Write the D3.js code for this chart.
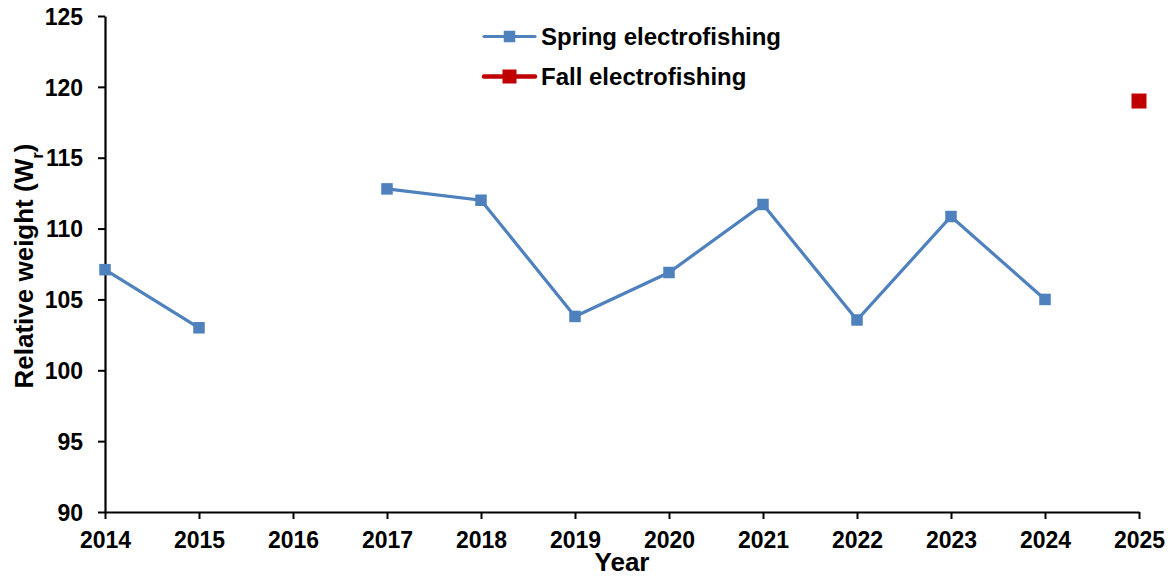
<!DOCTYPE html>
<html>
<head>
<meta charset="utf-8">
<script src="https://cdn.jsdelivr.net/npm/d3@7"></script>
<style>
  html, body { margin: 0; padding: 0; background: #fff; }
  svg { display: block; font-family: "Liberation Sans", Arial, sans-serif; }
</style>
</head>
<body>
<svg id="chart" width="1172" height="577"></svg>
<script>
// Relative weight (Wr) by sampling year
const years = [2014, 2015, 2016, 2017, 2018, 2019, 2020, 2021, 2022, 2023, 2024, 2025];
const springValues = [107.1, 103.0, null, 112.8, 112.0, 103.8, 106.9, 111.7, 103.55, 110.85, 105.0, null];
const fallValues = [null, null, null, null, null, null, null, null, null, null, null, 119.0];
const yTicks = [90, 95, 100, 105, 110, 115, 120, 125];

const seriesNames = ["Spring electrofishing", "Fall electrofishing"];
const seriesColors = ["#4f81bd", "#c00000"];

const svg = d3.select("#chart");
const margin = { left: 105, right: 33, top: 16, bottom: 65 };
const W = 1172, H = 577;

const x = d3.scaleLinear()
  .domain([2014, 2025])
  .range([margin.left, W - margin.right]);
const y = d3.scaleLinear()
  .domain([90, 125])
  .range([H - margin.bottom, margin.top]);

// Axes
const xAxis = d3.axisBottom(x).tickValues(years).tickFormat(d3.format("d")).tickSize(7).tickSizeOuter(0);
const yAxis = d3.axisLeft(y).tickValues(yTicks).tickSize(7).tickSizeOuter(0);

const gx = svg.append("g").attr("transform", `translate(0,${y(90)})`).call(xAxis);
const gy = svg.append("g").attr("transform", `translate(${x(2014)},0)`).call(yAxis);

[gx, gy].forEach(g => {
  g.selectAll("path.domain").attr("stroke", "#000").attr("stroke-width", 2.2);
  g.selectAll(".tick line").attr("stroke", "#000").attr("stroke-width", 2);
  g.selectAll(".tick text")
    .attr("fill", "#000")
    .style("font-size", "23px")
    .style("font-weight", "bold")
    .style("font-family", "'Liberation Sans', Arial, sans-serif");
});
gx.selectAll(".tick text").attr("y", 0).attr("dy", 0).attr("transform", "translate(0,36)");
gy.selectAll(".tick text").attr("x", -22).attr("dy", "0.36em");

// Axis titles
svg.append("text")
  .attr("x", (x(2014) + x(2025)) / 2)
  .attr("y", 571)
  .attr("text-anchor", "middle")
  .style("font-size", "26px")
  .style("font-weight", "bold")
  .text("Year");

const yTitle = svg.append("text")
  .attr("transform", `translate(33,${(y(90) + y(125)) / 2 + 2}) rotate(-90)`)
  .attr("text-anchor", "middle")
  .style("font-size", "26px")
  .style("font-weight", "bold");
yTitle.append("tspan").text("Relative weight (W");
yTitle.append("tspan").attr("baseline-shift", "sub").style("font-size", "17px").text("r");
yTitle.append("tspan").text(")");

// Series
const allSeries = [springValues, fallValues];
const markerSizes = [11.5, 15];

allSeries.forEach((vals, i) => {
  const pts = years.map((yr, j) => ({ yr, v: vals[j] }));
  const line = d3.line()
    .defined(d => d.v !== null)
    .x(d => x(d.yr))
    .y(d => y(d.v));
  svg.append("path")
    .datum(pts)
    .attr("fill", "none")
    .attr("stroke", seriesColors[i])
    .attr("stroke-width", 3.2)
    .attr("d", line);
  const s = markerSizes[i];
  svg.append("g").selectAll("rect")
    .data(pts.filter(d => d.v !== null))
    .join("rect")
    .attr("x", d => x(d.yr) - s / 2)
    .attr("y", d => y(d.v) - s / 2)
    .attr("width", s)
    .attr("height", s)
    .attr("fill", seriesColors[i]);
});

// Legend
const legend = svg.append("g");
seriesNames.forEach((name, i) => {
  const ly = 36.5 + i * 40;
  const g = legend.append("g");
  g.append("line")
    .attr("x1", 484).attr("x2", 535)
    .attr("y1", ly).attr("y2", ly)
    .attr("stroke", seriesColors[i])
    .attr("stroke-width", i === 0 ? 3.2 : 4.5)
    .attr("stroke-linecap", "round");
  const s = i === 0 ? 11.5 : 14;
  g.append("rect")
    .attr("x", 509.5 - s / 2).attr("y", ly - s / 2)
    .attr("width", s).attr("height", s)
    .attr("fill", seriesColors[i]);
  g.append("text")
    .attr("x", 541).attr("y", ly + 8.5)
    .style("font-size", "24px")
    .style("font-weight", "bold")
    .text(name);
});
</script>
</body>
</html>
